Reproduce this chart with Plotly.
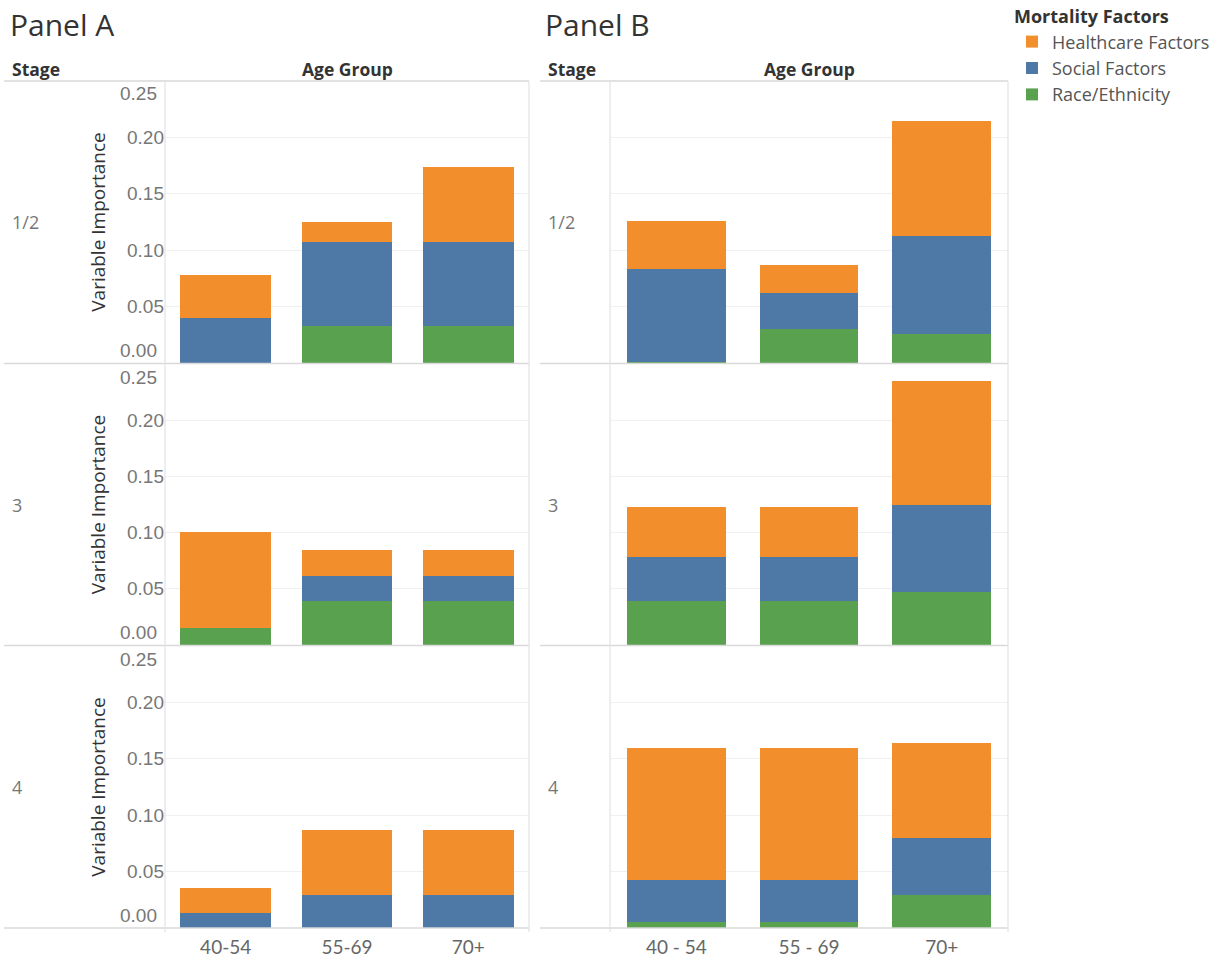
import plotly.graph_objects as go

W, H = 1225, 962

# ---------------- data ----------------
age_a = ["40-54", "55-69", "70+"]
age_b = ["40 - 54", "55 - 69", "70+"]
stages = ["1/2", "3", "4"]
factors = ["Healthcare Factors", "Social Factors", "Race/Ethnicity"]
y_ticks = [0.05, 0.10, 0.15, 0.20]

# Panel A (rows = stages 1/2, 3, 4; columns = age groups)
a_race = [[0.0, 0.0325, 0.0325],
          [0.0153, 0.0388, 0.0388],
          [0.0, 0.0, 0.0]]
a_social = [[0.0397, 0.0745, 0.0745],
            [0.0, 0.0229, 0.0229],
            [0.0132, 0.0297, 0.0297]]
a_health = [[0.0383, 0.0180, 0.0670],
            [0.0855, 0.0227, 0.0227],
            [0.0227, 0.0576, 0.0576]]

# Panel B
b_race = [[0.001, 0.0304, 0.0254],
          [0.0388, 0.0388, 0.0476],
          [0.005, 0.005, 0.0295]]
b_social = [[0.0826, 0.0316, 0.0875],
            [0.0391, 0.0391, 0.0770],
            [0.0377, 0.0377, 0.0505]]
b_health = [[0.0424, 0.0246, 0.1017],
            [0.0447, 0.0447, 0.1106],
            [0.1173, 0.1173, 0.0838]]

colors = {"Healthcare Factors": "#F28E2B", "Social Factors": "#4E79A7", "Race/Ethnicity": "#59A14F"}

# ---------------- layout geometry (px) ----------------
pane_x = {"A": (165, 529), "B": (610, 1008)}
rows_px = [(81, 363), (364, 645), (646, 928)]

def px_x(p):
    return p / W

def px_y(p):
    return 1 - p / H

FONT = "Open Sans"
TICKFONT = "Liberation Sans"

fig = go.Figure()
layout = {}
annotations = []
shapes = []

panels = [("A", age_a, a_race, a_social, a_health),
          ("B", age_b, b_race, b_social, b_health)]

k = 0
for pi, (pname, cats, race, social, health) in enumerate(panels):
    for ri, stage in enumerate(stages):
        k += 1
        xa = f"x{k}" if k > 1 else "x"
        ya = f"y{k}" if k > 1 else "y"
        series = [("Race/Ethnicity", race[ri], 3),
                  ("Social Factors", social[ri], 2),
                  ("Healthcare Factors", health[ri], 1)]
        for name, vals, rank in series:
            fig.add_trace(go.Bar(
                x=cats, y=vals, name=name, marker=dict(color=colors[name], line=dict(width=0)),
                xaxis=xa, yaxis=ya, legendgroup=name, showlegend=(k == 1),
                legendrank=rank, hovertemplate=f"{name}<br>%{{x}}: %{{y:.3f}}<extra></extra>"))
        x0, x1 = pane_x[pname]
        top, bot = rows_px[ri]
        xkey = "xaxis" if k == 1 else f"xaxis{k}"
        ykey = "yaxis" if k == 1 else f"yaxis{k}"
        layout[xkey] = dict(
            domain=[px_x(x0), px_x(x1)], anchor=ya, type="category",
            categoryorder="array", categoryarray=cats,
            showticklabels=(ri == 2), ticks="", showgrid=False, zeroline=False,
            showline=False, tickfont=dict(family="Lato", size=19, color="#666"),
            ticklabelstandoff=6, fixedrange=True)
        ydict = dict(
            domain=[px_y(bot), px_y(top)], anchor=xa, range=[0, 0.25],
            tickvals=y_ticks, ticktext=[f"{v:.2f}" for v in y_ticks],
            showticklabels=(pname == "A"), ticks="", showgrid=True,
            gridcolor="#f0f0f0", gridwidth=1, zeroline=False, showline=False,
            tickfont=dict(family=TICKFONT, size=19, color="#777"),
            fixedrange=True)
        if pname == "A":
            ydict["title"] = dict(text="Variable Importance",
                                  font=dict(family=FONT, size=19, color="#333"),
                                  standoff=16)
            # edge tick labels, nudged inward like the original
            annotations.append(dict(text="0.25", x=0, xref=f"{xa} domain", y=0.25, yref=ya,
                                    xanchor="right", yanchor="middle", xshift=-6, yshift=-13,
                                    showarrow=False,
                                    font=dict(family=TICKFONT, size=19, color="#777")))
            annotations.append(dict(text="0.00", x=0, xref=f"{xa} domain", y=0, yref=ya,
                                    xanchor="right", yanchor="middle", xshift=-6, yshift=13,
                                    showarrow=False,
                                    font=dict(family=TICKFONT, size=19, color="#777")))
        layout[ykey] = ydict

        # row label
        lx = 10 if pname == "A" else 546
        annotations.append(dict(text=stage, x=px_x(lx), y=px_y((top + bot) / 2),
                                xref="paper", yref="paper", xanchor="left", yanchor="middle",
                                showarrow=False, font=dict(family=FONT, size=18, color="#777")))

# headers
for pname, tx, sx in [("A", 8, 10), ("B", 543, 546)]:
    x0, x1 = pane_x[pname]
    annotations.append(dict(text=f"Panel {pname}", x=px_x(tx), y=px_y(24), xref="paper", yref="paper",
                            xanchor="left", yanchor="middle", showarrow=False,
                            font=dict(family=FONT, size=30, color="#333")))
    annotations.append(dict(text="<b>Stage</b>", x=px_x(sx), y=px_y(69), xref="paper", yref="paper",
                            xanchor="left", yanchor="middle", showarrow=False,
                            font=dict(family=FONT, size=17.5, color="#333")))
    annotations.append(dict(text="<b>Age Group</b>", x=px_x((x0 + x1) / 2), y=px_y(69),
                            xref="paper", yref="paper", xanchor="center", yanchor="middle",
                            showarrow=False, font=dict(family=FONT, size=17.5, color="#333")))

# border lines
line_col = "#d9d9d9"
for pname, lx0 in [("A", 4), ("B", 540)]:
    x0, x1 = pane_x[pname]
    for yy in [81, 363.5, 645.5, 928]:
        shapes.append(dict(type="line", xref="paper", yref="paper",
                           x0=px_x(lx0), x1=px_x(x1), y0=px_y(yy), y1=px_y(yy),
                           line=dict(color=line_col, width=1.5)))
    for xx in [x0, x1]:
        shapes.append(dict(type="line", xref="paper", yref="paper",
                           x0=px_x(xx), x1=px_x(xx), y0=px_y(81), y1=px_y(932),
                           line=dict(color="#e3e3e3", width=1.2)))

fig.update_layout(
    width=W, height=H,
    margin=dict(l=0, r=0, t=0, b=0),
    paper_bgcolor="white", plot_bgcolor="white",
    barmode="stack", bargap=0.255,
    font=dict(family=FONT, color="#555"),
    annotations=annotations, shapes=shapes,
    legend=dict(x=px_x(1012), y=1.0, xanchor="left", yanchor="top",
                title=dict(text="<b>Mortality Factors</b>", font=dict(family=FONT, size=18, color="#333")),
                font=dict(family=FONT, size=18, color="#555"),
                bgcolor="rgba(0,0,0,0)", itemclick=False, itemdoubleclick=False,
                tracegroupgap=0),
    **layout,
)

fig.write_html("out.html")
